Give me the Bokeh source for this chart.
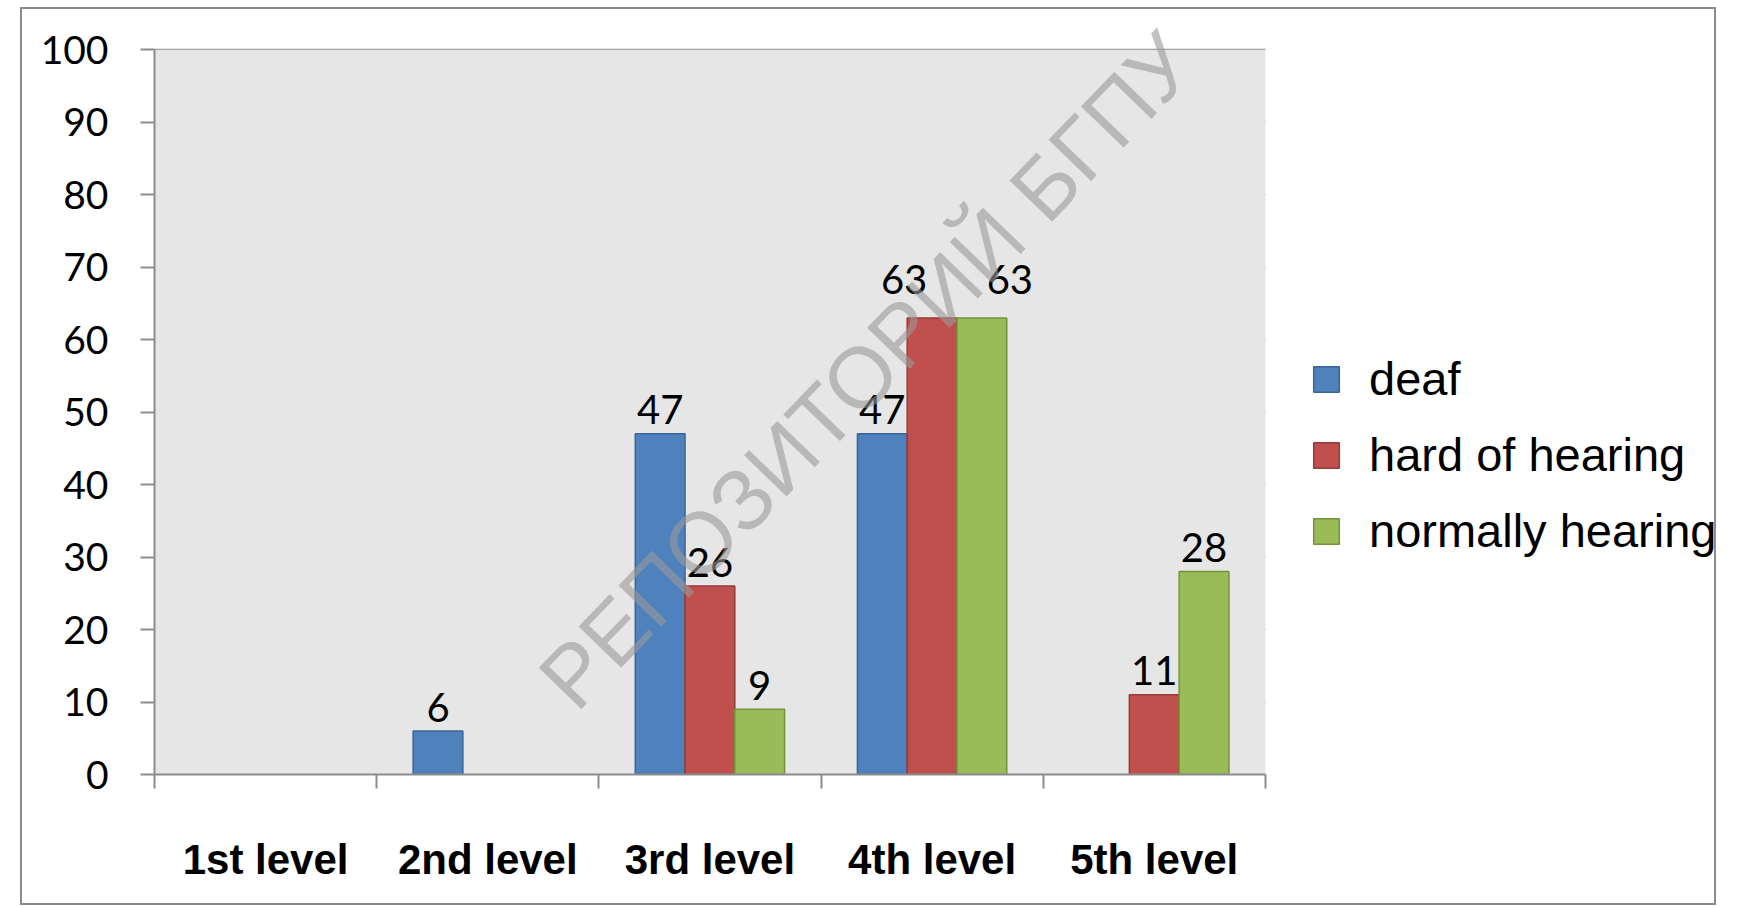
from bokeh.plotting import figure
from bokeh.models import (Range1d, FixedTicker, ColumnDataSource, Legend, LegendItem, Label,
                          BoxAnnotation)
from bokeh.transform import dodge
from bokeh.core.properties import value
from bokeh.embed import file_html
from bokeh.resources import INLINE

# ---- data ----
levels = ["1st level", "2nd level", "3rd level", "4th level", "5th level"]
series = ["deaf", "hard of hearing", "normally hearing"]
deaf = [0, 6, 47, 47, 0]
hard_of_hearing = [0, 0, 26, 63, 11]
normally_hearing = [0, 0, 9, 63, 28]
y_ticks = [0, 10, 20, 30, 40, 50, 60, 70, 80, 90, 100]
watermark = "РЕПОЗИТОРИЙ БГПУ"

# ---- styles ----
fills = ["#4F81BD", "#C0504D", "#9BBB59"]
edges = ["#3A659A", "#943B39", "#76923C"]
offsets = [-0.224, 0.0, 0.224]
bar_w = 0.224
grid_col = "#8C8C8C"
plot_bg = "#E6E6E6"
# pixel nudges of individual data labels (as hand-placed in the original)
label_nudge = {("hard of hearing", "4th level"): (-28, -14),
               ("normally hearing", "4th level"): (28, -14)}

# layout (pixels): the plotting frame also hosts the legend (right) and the
# top margin, so that the watermark and legend are not clipped
W, H = 1692, 894
left_b, top_b, bottom_b = 132, 40, 133
plot_px = 1108                      # width of the grey plot area
frame_px = W - left_b               # frame runs to the right edge
frame_h = H - bottom_b              # frame runs to the top edge
legend_x, legend_y = 1156, 216

# category slots on a numeric axis: slot i spans [i, i+1]
n = len(levels)
centers = [i + 0.5 for i in range(n)]
bounds = list(range(n + 1))
y_max = y_ticks[-1]

p = figure(x_range=Range1d(0, n * frame_px / plot_px),
           y_range=Range1d(0, y_max * frame_h / (frame_h - top_b)),
           width=W, height=H, output_backend="svg", toolbar_location=None,
           min_border_left=left_b, min_border_right=0,
           min_border_top=0, min_border_bottom=bottom_b)
p.styles = {"margin-left": "20px", "margin-top": "7px",
            "border": "2px solid #8C8C8C", "box-sizing": "content-box"}

p.background_fill_color = "white"
p.border_fill_color = "white"
p.outline_line_color = None
p.xgrid.visible = False
p.ygrid.visible = False

# grey plot area and horizontal gridlines, limited to the category slots
p.add_layout(BoxAnnotation(left=0, right=n, bottom=0, top=y_max, fill_color=plot_bg,
                           fill_alpha=1, line_color=None, level="underlay"))
p.segment(x0=[0] * len(y_ticks), x1=[n] * len(y_ticks), y0=y_ticks, y1=y_ticks,
          line_color=grid_col, line_width=2, level="underlay")

ax = p.yaxis[0]
ax.bounds = (0, y_max)
ax.ticker = FixedTicker(ticks=y_ticks)
ax.axis_line_color = grid_col
ax.axis_line_width = 2
ax.major_tick_line_color = grid_col
ax.major_tick_line_width = 2
ax.major_tick_out = 14
ax.major_tick_in = 0
ax.minor_tick_line_color = None
ax.major_label_text_font = "Lato"
ax.major_label_text_font_size = "39px"
ax.major_label_text_color = "black"
ax.major_label_standoff = 32

xa = p.xaxis[0]
xa.bounds = (0, n)
xa.ticker = FixedTicker(ticks=centers, minor_ticks=bounds)
xa.major_label_overrides = {c: name for c, name in zip(centers, levels)}
xa.axis_line_color = grid_col
xa.axis_line_width = 2
xa.major_tick_line_color = None
xa.major_tick_out = 14
xa.major_tick_in = 0
xa.minor_tick_line_color = grid_col
xa.minor_tick_line_width = 2
xa.minor_tick_out = 14
xa.minor_tick_in = 0
xa.major_label_text_font = "Liberation Sans"
xa.major_label_text_font_style = "bold"
xa.major_label_text_font_size = "42px"
xa.major_label_text_color = "black"
xa.major_label_standoff = 47

renderers = []
for name, vals, fc, lc, off in zip(series, [deaf, hard_of_hearing, normally_hearing],
                                   fills, edges, offsets):
    keep = [(lv, c, v) for lv, c, v in zip(levels, centers, vals) if v > 0]
    xs = [c for _, c, _ in keep]
    tops = [v for _, _, v in keep]
    dx = [label_nudge.get((name, lv), (0, 0))[0] for lv, _, _ in keep]
    dy = [-24 + label_nudge.get((name, lv), (0, 0))[1] for lv, _, _ in keep]
    src = ColumnDataSource(dict(x=xs, top=tops, label=[str(v) for v in tops], dx=dx, dy=dy))
    r = p.vbar(x=dodge("x", off), top="top", bottom=0, width=bar_w,
               source=src, fill_color=fc, line_color=lc, line_width=1.5)
    p.text(x=dodge("x", off), y="top", text="label", source=src,
           x_offset="dx", y_offset="dy",
           text_font=value("Lato"), text_font_size="40px", text_align="center",
           text_baseline="alphabetic", text_color="black")
    renderers.append(r)

legend = Legend(items=[LegendItem(label=nm, renderers=[r]) for nm, r in zip(series, renderers)],
                location=(legend_x, legend_y), orientation="vertical",
                glyph_width=32, glyph_height=32,
                label_text_font="Liberation Sans", label_text_font_size="47px",
                label_text_color="black",
                label_standoff=27, spacing=21, padding=0, margin=0,
                border_line_color=None, background_fill_alpha=0)
p.add_layout(legend)

wm = Label(x=712, y=404, x_units="screen", y_units="screen", text=watermark,
           angle=46, angle_units="deg", text_font="Liberation Sans",
           text_font_size="86px", text_color="#9A9A9A", text_alpha=0.6,
           text_align="center", text_baseline="middle")
p.add_layout(wm)

open("out.html", "w").write(file_html(p, INLINE))
